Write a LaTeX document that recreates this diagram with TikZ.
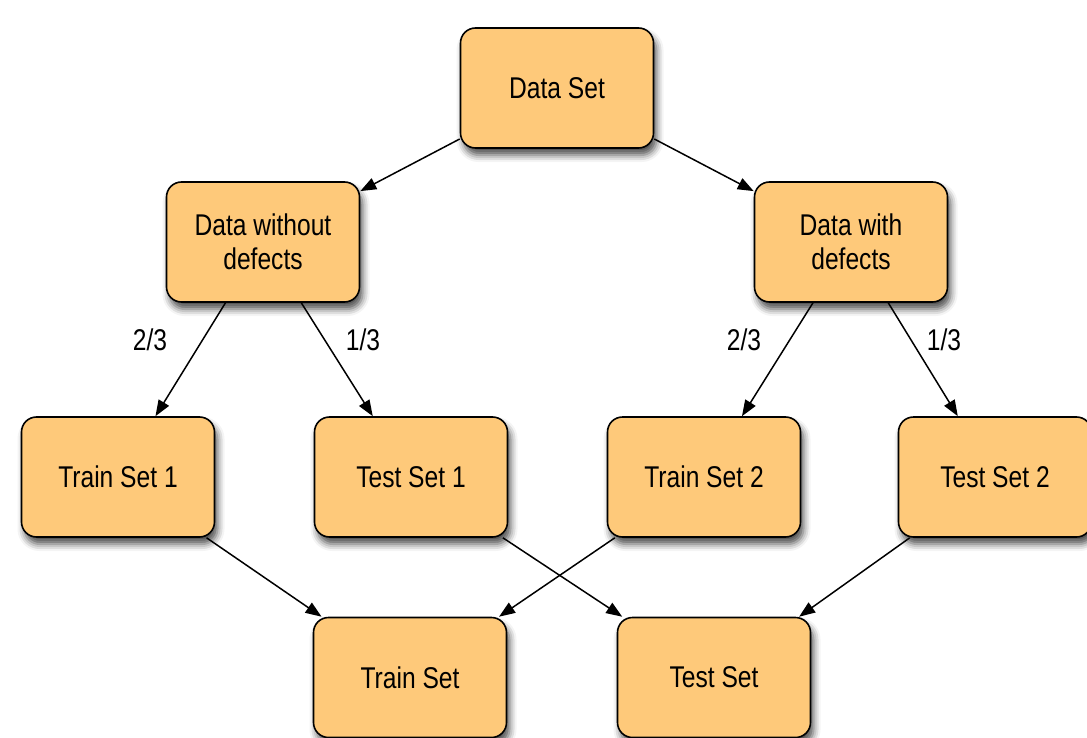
\documentclass[tikz,border=0pt]{standalone}
\usepackage{fontspec}
\setmainfont{Liberation Sans}[FakeStretch=0.82]
\usetikzlibrary{arrows.meta,shadows.blur}
\definecolor{boxfill}{RGB}{254,201,122}
\tikzset{
  box/.style={draw=black, line width=0.8pt, fill=boxfill, rounded corners=7.5pt,
    minimum width=96.5pt, minimum height=60pt, align=center, inner sep=0pt,
    font=\fontsize{15pt}{17pt}\selectfont,
    blur shadow={shadow xshift=1.5pt, shadow yshift=-3.5pt, shadow blur radius=3.5pt, shadow opacity=70}},
  conn/.style={draw=black, line width=0.75pt, -{Triangle[length=8pt,width=6pt]}},
  frac/.style={inner sep=0pt, font=\fontsize{15pt}{17pt}\selectfont}
}
\begin{document}
\begin{tikzpicture}[x=0.5pt, y=-0.5pt]
\useasboundingbox (0,0) rectangle (1087,738);
\node[box] (ds)  at (557,88)  {Data Set};
\node[box] (dw)  at (263,242) {Data without\\defects};
\node[box] (dd)  at (851,242) {Data with\\defects};
\node[box] (tr1) at (118,477) {Train Set 1};
\node[box] (te1) at (411,477) {Test Set 1};
\node[box] (tr2) at (704,477) {Train Set 2};
\node[box] (te2) at (995,477) {Test Set 2};
\node[box] (tr)  at (410,677.5) {Train Set};
\node[box] (te)  at (714,677.5) {Test Set};
\draw[conn] (ds) -- (dw);
\draw[conn] (ds) -- (dd);
\draw[conn] (dw) -- (tr1);
\draw[conn] (dw) -- (te1);
\draw[conn] (dd) -- (tr2);
\draw[conn] (dd) -- (te2);
\draw[conn] (tr1) -- (tr);
\draw[conn] (tr2) -- (tr);
\draw[conn] (te1) -- (te);
\draw[conn] (te2) -- (te);
\node[frac] (l1) at (150,340) {2/3};
\node[frac] (l2) at (363,340) {1/3};
\node[frac] (l3) at (744,340) {2/3};
\node[frac] (l4) at (944,340) {1/3};
\end{tikzpicture}
\end{document}
